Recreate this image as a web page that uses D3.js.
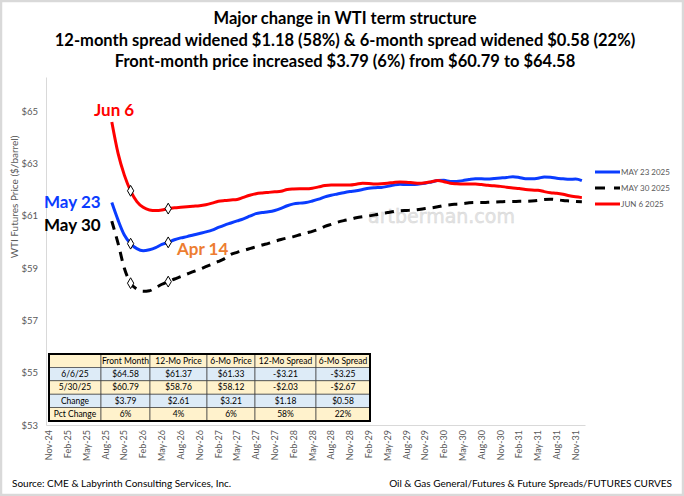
<!DOCTYPE html>
<html>
<head>
<meta charset="utf-8">
<script src="https://cdn.jsdelivr.net/npm/d3@7"></script>
<style>
  body { margin: 0; background: #fff; }
  svg { font-family: Lato, "Open Sans", sans-serif; }
</style>
</head>
<body>
<div id="chart"></div>
<script>
// ---- datos ----
var titleLines = [
  "Major change in WTI term structure",
  "12-month spread widened $1.18 (58%) & 6-month spread widened $0.58 (22%)",
  "Front-month price increased $3.79 (6%) from $60.79 to $64.58"
];

var firstMonth = new Date(2024, 10, 1);   // Nov-24
var lastMonth = new Date(2032, 0, 1);     // despues de Dec-31
var seriesStart = 10;                     // primer contrato: Sep-25 en el eje
var markerIdx = [3, 9];                   // puntos marcados dentro de cada curva

var may23 = [61.50, 60.83, 60.26, 59.93, 59.74, 59.66, 59.70, 59.78, 59.90, 59.98,
  60.08, 60.15, 60.20, 60.26, 60.32, 60.38, 60.45, 60.55, 60.64, 60.72,
  60.80, 60.88, 60.98, 61.08, 61.12, 61.15, 61.20, 61.28, 61.38, 61.45,
  61.48, 61.50, 61.56, 61.63, 61.72, 61.78, 61.83, 61.88, 61.92, 61.95,
  62.00, 62.05, 62.07, 62.08, 62.12, 62.17, 62.20, 62.19, 62.19, 62.21,
  62.24, 62.29, 62.34, 62.35, 62.31, 62.31, 62.34, 62.38, 62.41, 62.41,
  62.40, 62.42, 62.44, 62.46, 62.49, 62.46, 62.41, 62.41, 62.43, 62.48,
  62.47, 62.43, 62.41, 62.39, 62.40, 62.34];

var may30 = [60.79, 59.94, 58.99, 58.42, 58.19, 58.11, 58.13, 58.25, 58.38, 58.48,
  58.58, 58.67, 58.77, 58.86, 58.95, 59.05, 59.15, 59.25, 59.36, 59.52,
  59.60, 59.67, 59.74, 59.81, 59.88, 59.94, 60.02, 60.09, 60.15, 60.20,
  60.27, 60.34, 60.40, 60.48, 60.59, 60.67, 60.75, 60.81, 60.86, 60.92,
  60.96, 60.99, 61.03, 61.08, 61.12, 61.16, 61.19, 61.20, 61.21, 61.24,
  61.27, 61.30, 61.34, 61.39, 61.42, 61.44, 61.46, 61.49, 61.50, 61.50,
  61.51, 61.52, 61.53, 61.54, 61.54, 61.55, 61.55, 61.56, 61.58, 61.62,
  61.63, 61.61, 61.58, 61.56, 61.54, 61.53];

var jun6 = [64.58, 63.38, 62.55, 61.95, 61.54, 61.32, 61.22, 61.20, 61.22, 61.27,
  61.30, 61.32, 61.34, 61.36, 61.38, 61.42, 61.48, 61.55, 61.58, 61.60,
  61.62, 61.70, 61.78, 61.84, 61.87, 61.89, 61.91, 61.93, 62.00, 62.02,
  62.03, 62.03, 62.05, 62.10, 62.15, 62.17, 62.17, 62.17, 62.17, 62.20,
  62.24, 62.23, 62.21, 62.22, 62.24, 62.27, 62.29, 62.28, 62.26, 62.24,
  62.26, 62.30, 62.34, 62.30, 62.24, 62.22, 62.21, 62.21, 62.21, 62.19,
  62.16, 62.14, 62.12, 62.09, 62.06, 62.04, 62.00, 61.98, 61.97, 61.92,
  61.88, 61.86, 61.82, 61.76, 61.72, 61.69];

var seriesNames = ["MAY 23 2025", "MAY 30 2025", "JUN 6 2025"];
var seriesColors = ["#0a3cff", "#000000", "#ff0000"];

var yTicks = [53, 55, 57, 59, 61, 63, 65];

var tableHeader = ["", "Front Month", "12-Mo Price", "6-Mo Price", "12-Mo Spread", "6-Mo Spread"];
var tableRows = [
  ["6/6/25", "$64.58", "$61.37", "$61.33", "-$3.21", "-$3.25"],
  ["5/30/25", "$60.79", "$58.76", "$58.12", "-$2.03", "-$2.67"],
  ["Change", "$3.79", "$2.61", "$3.21", "$1.18", "$0.58"],
  ["Pct Change", "6%", "4%", "6%", "58%", "22%"]
];

// ---- lienzo ----
var width = 684;
var height = 496;

var svg = d3.select("#chart")
            .append("svg")
            .attr("width", width)
            .attr("height", height);

svg.append("rect")
    .attr("x", 1).attr("y", 1)
    .attr("width", width - 2).attr("height", height - 2)
    .attr("fill", "#fff")
    .attr("stroke", "#d9d9d9")
    .attr("stroke-width", 2.5);

// ---- escalas ----
var months = d3.timeMonth.range(firstMonth, lastMonth);

var x = d3.scaleBand()
          .domain(months)
          .range([46, 585]);

var y = d3.scaleLinear()
          .domain([53, 66.3])
          .range([425, 77]);

var fmtMonth = d3.timeFormat("%b-%y");
var xc = function (d) { return x(d) + x.bandwidth() / 2; };

// ---- ejes ----
var yAxis = svg.append("g")
    .attr("transform", "translate(46,0)")
    .call(d3.axisLeft(y).tickValues(yTicks).tickSize(0).tickPadding(8)
            .tickFormat(function (d) { return "$" + d; }));
yAxis.select(".domain").attr("stroke", "#d9d9d9");
yAxis.selectAll("text")
    .attr("fill", "#595959")
    .style("font-size", "9.5px")
    .style("font-family", "Lato, sans-serif");

var xAxis = svg.append("g")
    .attr("transform", "translate(0,425)")
    .call(d3.axisBottom(x)
            .tickValues(months.filter(function (d, i) { return i % 3 === 0; }))
            .tickSize(0)
            .tickFormat(fmtMonth));
xAxis.select(".domain").attr("stroke", "#d9d9d9");
xAxis.selectAll("text")
    .attr("fill", "#595959")
    .style("font-size", "9px")
    .style("font-family", "Lato, sans-serif")
    .attr("transform", "rotate(-90)")
    .attr("x", -5)
    .attr("y", 0)
    .attr("dy", "0.35em")
    .style("text-anchor", "end");

svg.append("text")
    .attr("transform", "translate(18,197) rotate(-90)")
    .style("text-anchor", "middle")
    .attr("fill", "#595959")
    .style("font-size", "10px")
    .text("WTI Futures  Price ($/barrel)");

// ---- marca de agua ----
svg.append("text")
    .attr("x", 368).attr("y", 223)
    .attr("fill", "#e4e4e4")
    .attr("stroke", "#d6d6d6")
    .attr("stroke-width", 0.4)
    .style("font-size", "19px")
    .style("font-family", "'DejaVu Sans', sans-serif")
    .text("artberman.com");

// ---- curvas ----
var seriesData = [may23, may30, jun6];
var curveDates = months.slice(seriesStart);

var line = d3.line()
    .x(function (d, i) { return xc(curveDates[i]); })
    .y(function (d) { return y(d); })
    .curve(d3.curveMonotoneX);

seriesData.forEach(function (s, k) {
    svg.append("path")
        .datum(s)
        .attr("fill", "none")
        .attr("stroke", seriesColors[k])
        .attr("stroke-width", 3)
        .attr("stroke-dasharray", k === 1 ? "9,7" : null)
        .attr("d", line);
});

seriesData.forEach(function (s) {
    svg.append("g")
        .selectAll("path")
        .data(markerIdx)
        .enter()
        .append("path")
        .attr("transform", function (i) { return "translate(" + xc(curveDates[i]) + "," + y(s[i]) + ")"; })
        .attr("d", d3.symbol().type(d3.symbolDiamond).size(34))
        .attr("fill", "#fff")
        .attr("stroke", "#000")
        .attr("stroke-width", 1);
});

// ---- etiquetas ----
var notes = [
  {t: "Jun 6", x: 94, y: 116, c: "#ff0000"},
  {t: "May 23", x: 44, y: 208, c: "#0a3cff"},
  {t: "May 30", x: 44, y: 231, c: "#000000"},
  {t: "Apr 14", x: 177, y: 255, c: "#ed7d31"}
];
svg.append("g")
    .selectAll("text")
    .data(notes)
    .enter()
    .append("text")
    .attr("x", function (d) { return d.x; })
    .attr("y", function (d) { return d.y; })
    .attr("fill", function (d) { return d.c; })
    .style("font-weight", "bold")
    .style("font-size", "17px")
    .text(function (d) { return d.t; });

// ---- leyenda ----
var legend = svg.append("g")
    .selectAll("g")
    .data(seriesNames)
    .enter()
    .append("g")
    .attr("transform", function (d, i) { return "translate(595," + (172 + i * 16) + ")"; });
legend.append("line")
    .attr("x1", 0).attr("x2", 25)
    .attr("stroke", function (d, i) { return seriesColors[i]; })
    .attr("stroke-width", 3)
    .attr("stroke-dasharray", function (d, i) { return i === 1 ? "10,9" : null; });
legend.append("text")
    .attr("x", 26).attr("dy", "0.35em")
    .attr("fill", "#595959")
    .style("font-size", "8px")
    .text(function (d) { return d; });

// ---- titulo ----
svg.append("g")
    .selectAll("text")
    .data(titleLines)
    .enter()
    .append("text")
    .attr("x", 345)
    .attr("y", function (d, i) { return 24 + i * 21.5; })
    .style("text-anchor", "middle")
    .style("font-weight", "bold")
    .style("font-size", "16.5px")
    .attr("fill", "#000")
    .text(function (d) { return d; });

// ---- tabla ----
var colX = [49, 101, 150, 207, 255, 316, 370];
var rowY = d3.range(6).map(function (i) { return 354 + i * 13.4; });
var allRows = [tableHeader].concat(tableRows);
var rowFill = ["#fff2cc", "#ddebf7", "#fff2cc", "#ddebf7", "#fff2cc"];

var table = svg.append("g");
allRows.forEach(function (row, r) {
    row.forEach(function (cell, c) {
        table.append("rect")
            .attr("x", colX[c]).attr("y", rowY[r])
            .attr("width", colX[c + 1] - colX[c])
            .attr("height", rowY[r + 1] - rowY[r])
            .attr("fill", rowFill[r])
            .attr("stroke", "#404040")
            .attr("stroke-width", 0.7);
        table.append("text")
            .attr("x", (colX[c] + colX[c + 1]) / 2)
            .attr("y", (rowY[r] + rowY[r + 1]) / 2)
            .attr("dy", "0.35em")
            .style("text-anchor", "middle")
            .style("font-size", "8.5px")
            .attr("fill", "#000")
            .text(cell);
    });
});
table.append("rect")
    .attr("x", colX[0]).attr("y", rowY[0])
    .attr("width", colX[6] - colX[0])
    .attr("height", rowY[5] - rowY[0])
    .attr("fill", "none")
    .attr("stroke", "#000")
    .attr("stroke-width", 2);

// ---- pie ----
svg.append("text")
    .attr("x", 12).attr("y", 487)
    .style("font-size", "10px")
    .attr("fill", "#000")
    .text("Source: CME & Labyrinth Consulting Services, Inc.");
svg.append("text")
    .attr("x", 672).attr("y", 487)
    .style("text-anchor", "end")
    .style("font-size", "10px")
    .attr("fill", "#000")
    .text("Oil & Gas General/Futures & Future Spreads/FUTURES CURVES");
</script>
</body>
</html>
